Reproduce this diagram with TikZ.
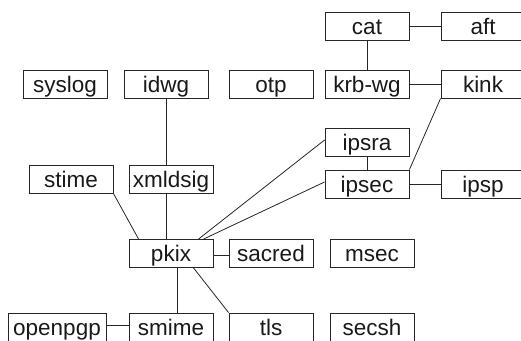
\documentclass[tikz,border=0pt]{standalone}
\usepackage{fontspec}
\setmainfont{Liberation Sans}
\begin{document}
\begin{tikzpicture}[x=1pt,y=-1pt,
  wg/.style={draw=black!85, line width=0.9pt, inner sep=0pt,
    minimum width=84pt, minimum height=28pt,
    text height=16pt, text depth=0pt, text=black!90,
    font=\fontsize{22.5}{27}\selectfont},
  link/.style={draw=black!85, line width=0.8pt}]
\useasboundingbox (0,0) rectangle (521,340);
\clip (0,0) rectangle (521,340);

% working groups
\node[wg] (cat)     at (367,26)    {cat};
\node[wg] (aft)     at (483,26)    {aft};
\node[wg] (syslog)  at (65,84)     {syslog};
\node[wg] (idwg)    at (166,84)    {idwg};
\node[wg] (otp)     at (271,84)    {otp};
\node[wg] (krbwg)   at (367,84)    {krb-wg};
\node[wg] (kink)    at (483,84)    {kink};
\node[wg] (ipsra)   at (367,142)   {ipsra};
\node[wg] (stime)   at (71,179)    {stime};
\node[wg] (xmldsig) at (171,179)   {xmldsig};
\node[wg] (ipsec)   at (367,184)   {ipsec};
\node[wg] (ipsp)    at (483,184)   {ipsp};
\node[wg] (pkix)    at (171,253.5) {pkix};
\node[wg] (sacred)  at (271,253.5) {sacred};
\node[wg] (msec)    at (372,253.5) {msec};
\node[wg, minimum width=98pt] (openpgp) at (57,327) {openpgp};
\node[wg] (smime)   at (171,327)   {smime};
\node[wg] (tls)     at (271,327)   {tls};
\node[wg] (secsh)   at (372,327)   {secsh};

% relations
\draw[link] (cat) -- (aft);
\draw[link] (cat) -- (krbwg);
\draw[link] (krbwg) -- (kink);
\draw[link] (kink.south west) -- (ipsec.north east);
\draw[link] (ipsra) -- (ipsec);
\draw[link] (ipsec) -- (ipsp);
\draw[link] (idwg.south) -- ([xshift=-5pt]xmldsig.north);
\draw[link] ([xshift=-5pt]xmldsig.south) -- ([xshift=-5pt]pkix.north);
\draw[link] (stime.south east) -- ([xshift=10pt]pkix.north west);
\draw[link] ([xshift=70pt]pkix.north west) -- ([yshift=2pt]ipsra.west);
\draw[link] ([xshift=75pt]pkix.north west) -- ([yshift=2pt]ipsec.west);
\draw[link] ([yshift=-1.5pt]pkix.east) -- ([yshift=-1.5pt]sacred.west);
\draw[link] ([xshift=6pt]pkix.south) -- ([xshift=6pt]smime.north);
\draw[link] ([xshift=65pt]pkix.south west) -- (tls.north west);
\draw[link] ([yshift=2pt]openpgp.east) -- ([yshift=2pt]smime.west);
\end{tikzpicture}
\end{document}
